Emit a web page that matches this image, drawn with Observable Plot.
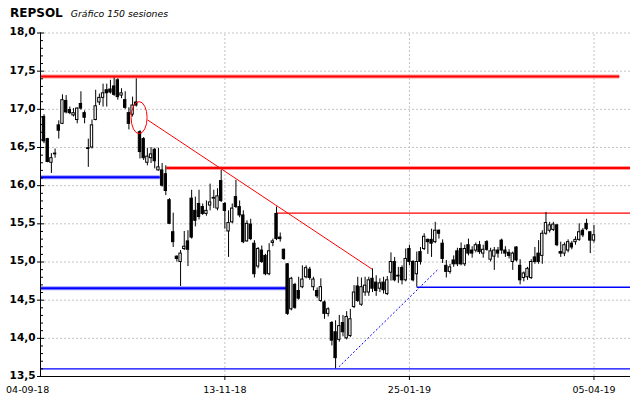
<!DOCTYPE html>
<html><head><meta charset="utf-8">
<script src="https://cdn.jsdelivr.net/npm/d3@7"></script>
<script src="https://cdn.jsdelivr.net/npm/@observablehq/plot@0.6"></script>
<style>
body{margin:0;background:#fff;}
#wrap{position:relative;width:640px;height:398px;}
#title{position:absolute;left:10px;top:2px;font-family:"DejaVu Sans",sans-serif;white-space:nowrap;color:#000;}
#title b{font-size:12px;}
#title i{font-size:9.3px;margin-left:8px;}
</style></head><body>
<div id="wrap"><div id="title"><b>REPSOL</b><i>Gráfico 150 sesiones</i></div></div>
<script>
const opens = [16.90,16.61,16.30,16.41,16.79,16.81,17.11,16.99,16.92,16.86,17.07,16.95,16.49,16.50,16.86,17.09,17.15,17.25,17.26,17.30,17.38,17.18,17.12,16.95,16.93,17.09,16.70,16.61,16.30,16.36,16.47,16.20,16.20,16.15,15.81,15.39,15.07,15.00,
15.17,15.27,15.83,15.67,15.76,15.72,15.63,15.74,15.83,15.70,16.06,15.76,15.40,15.52,15.85,15.72,15.61,15.27,15.49,15.24,14.94,15.15,15.08,14.84,15.25,15.63,15.32,15.16,14.97,14.38,14.70,14.62,14.67,14.80,14.90,14.67,14.62,14.49,14.47,14.32,14.20,14.08,13.98,14.20,14.00,14.03,14.41,14.68,14.44,14.60,14.60,14.78,14.73,14.65,14.73,14.58,14.86,15.00,14.82,14.92,14.76,15.17,15.00,14.84,15.13,15.17,15.29,15.29,15.26,15.41,15.24,14.95,14.87,15.02,15.14,15.17,14.97,15.22,15.15,15.15,15.22,15.11,15.26,15.03,15.07,15.15,15.28,15.15,15.12,15.00,15.19,14.95,14.79,14.80,14.79,15.06,15.11,15.08,15.37,15.41,15.42,15.48,15.13,15.11,15.15,15.24,15.26,15.29,15.41,15.50,15.39,15.28];
const highs = [16.93,16.62,16.42,16.48,16.85,17.19,17.18,17.03,17.01,17.02,17.23,16.98,16.61,16.86,17.25,17.20,17.33,17.33,17.38,17.41,17.40,17.27,17.23,17.02,17.16,17.40,16.72,16.63,16.49,16.50,16.49,16.49,16.29,16.26,15.83,15.64,15.08,15.15,
15.40,15.41,15.94,15.85,15.94,15.76,15.80,16.02,15.94,15.96,16.20,15.78,15.67,15.76,16.07,15.80,15.67,15.54,15.56,15.28,15.19,15.21,15.10,15.24,15.30,15.72,15.38,15.17,14.98,14.80,14.72,14.80,14.95,14.95,14.93,14.80,14.66,14.78,14.49,14.40,14.22,14.23,14.30,14.30,14.35,14.38,14.69,14.80,14.79,14.80,14.80,14.91,14.82,14.78,14.80,14.81,15.12,15.06,14.93,14.95,15.17,15.22,15.02,15.13,15.19,15.37,15.30,15.43,15.52,15.42,15.29,15.02,14.97,15.08,15.18,15.25,15.22,15.30,15.20,15.25,15.27,15.22,15.28,15.18,15.19,15.19,15.30,15.20,15.16,15.13,15.20,15.03,14.87,14.93,15.03,15.19,15.28,15.41,15.65,15.52,15.52,15.49,15.26,15.25,15.29,15.27,15.33,15.50,15.44,15.56,15.39,15.48];
const lows = [16.55,16.30,16.16,16.36,16.61,16.80,16.94,16.93,16.90,16.81,16.99,16.81,16.24,16.48,16.85,17.05,17.03,17.03,17.20,17.17,17.12,17.14,17.00,16.73,16.90,17.03,16.35,16.33,16.26,16.29,16.22,16.19,15.98,15.87,15.49,15.19,15.00,14.68,
15.15,14.94,15.30,15.46,15.55,15.61,15.60,15.67,15.70,15.67,15.78,15.43,15.06,15.50,15.70,15.58,15.24,15.26,15.28,14.79,14.91,14.98,14.82,14.82,15.20,15.28,15.26,15.02,14.30,14.36,14.38,14.50,14.65,14.78,14.76,14.62,14.52,14.47,14.25,14.28,13.90,13.60,13.95,14.02,13.98,14.01,14.39,14.47,14.42,14.55,14.55,14.60,14.55,14.60,14.58,14.56,14.75,14.74,14.72,14.70,14.74,14.95,14.74,14.67,14.96,15.15,15.10,15.06,15.24,15.30,14.98,14.79,14.84,14.93,14.94,14.95,14.94,15.08,15.05,15.12,15.10,15.05,15.14,15.00,14.89,15.05,15.10,15.06,15.04,14.89,15.00,14.70,14.74,14.76,14.77,14.97,14.97,14.97,15.35,15.38,15.40,15.20,15.06,15.07,15.12,15.16,15.22,15.27,15.32,15.41,15.11,15.25];
const closes = [16.58,16.31,16.36,16.42,16.72,17.12,16.96,16.95,16.95,17.01,17.01,16.89,16.48,16.79,17.04,17.15,17.21,17.21,17.22,17.19,17.16,17.21,17.02,16.81,17.05,17.05,16.44,16.36,16.38,16.41,16.32,16.24,16.00,15.93,15.50,15.26,15.04,15.11,
15.20,15.16,15.32,15.54,15.59,15.63,15.67,15.78,15.84,15.86,15.80,15.67,15.51,15.70,15.72,15.61,15.26,15.50,15.30,14.84,15.17,15.00,14.84,15.14,15.27,15.30,15.30,15.04,14.32,14.78,14.40,14.52,14.77,14.92,14.79,14.77,14.55,14.67,14.32,14.38,13.97,13.74,14.16,14.08,14.28,14.25,14.60,14.49,14.67,14.69,14.76,14.65,14.62,14.72,14.63,14.76,15.00,14.76,14.81,14.76,15.04,15.00,14.76,15.00,15.00,15.33,15.26,15.24,15.41,15.37,15.04,14.87,14.93,14.97,14.97,14.97,15.17,15.11,15.11,15.22,15.13,15.16,15.16,15.14,15.15,15.11,15.15,15.11,15.08,15.11,15.02,14.76,14.85,14.91,15.00,15.00,15.00,15.37,15.51,15.48,15.49,15.22,15.11,15.22,15.26,15.19,15.29,15.39,15.35,15.43,15.28,15.35];

const yTicks = [13.5,14.0,14.5,15.0,15.5,16.0,16.5,17.0,17.5,18.0];
const xTickSessions = [-2, 49, 99, 149];
const xTickLabels = ["04-09-18","13-11-18","25-01-19","05-04-19"];

// horizontal support/resistance levels: price, from session, to session
const resThick = [{p:17.43, a:-0.95, b:156}, {p:16.23, a:33.3, b:158.9}];
const supThick = [{p:16.11, a:-0.95, b:31.5}, {p:14.656, a:-0.95, b:65.8}];
const resThin = [{p:15.64, a:63.0, b:158.9}];
const supThin = [{p:14.67, a:101.1, b:158.9}, {p:13.60, a:-0.95, b:158.9}];
const trendDown = [{s1:28.1, p1:16.86, s2:88.9, p2:14.906}];
const trendUp = [{s1:79.9, p1:13.627, s2:106.8, p2:14.906}];
const circleAt = {s:25.9, p:16.885};

const candles = opens.map((o,i)=>({i, o, h:highs[i], l:lows[i], c:closes[i]}));
const up = candles.filter(d=>d.c>=d.o);
const down = candles.filter(d=>d.c<d.o);
const minorTicks = d3.range(136,181).map(v=>v/10).filter(v=>Math.round(v*10)%5!==0);
const gridY = yTicks.filter(v=>v>13.5);
const xLabels = xTickSessions.map((s,k)=>({s, label:xTickLabels[k], first:k===0}));
const hw = 0.32;
const font = "DejaVu Sans, sans-serif";

const chart = Plot.plot({
  width: 640, height: 398,
  marginLeft: 40, marginRight: 10, marginTop: 32.5, marginBottom: 22,
  x: {domain: [-0.95, 158.9], axis: null},
  y: {domain: [13.5, 18.0], axis: null},
  style: {fontFamily: font, background: "white", color: "black"},
  marks: [
    Plot.ruleY(gridY, {stroke: "#c4c4c4", strokeDasharray: "2,2"}),
    Plot.ruleX(xTickSessions.filter(s=>s>0), {y1: 13.5, y2: 18.0, stroke: "#c4c4c4", strokeDasharray: "2,2"}),
    // thick levels
    Plot.ruleY(resThick, {y: "p", x1: "a", x2: "b", stroke: "#ff9a9a", strokeWidth: 4}),
    Plot.ruleY(resThick, {y: "p", x1: "a", x2: "b", stroke: "#ff0000", strokeWidth: 2}),
    Plot.ruleY(supThick, {y: "p", x1: "a", x2: "b", stroke: "#9a9aff", strokeWidth: 4}),
    Plot.ruleY(supThick, {y: "p", x1: "a", x2: "b", stroke: "#0000ff", strokeWidth: 2}),
    Plot.ruleY(resThin, {y: "p", x1: "a", x2: "b", stroke: "#ff0000", strokeWidth: 1.4}),
    Plot.ruleY(supThin, {y: "p", x1: "a", x2: "b", stroke: "#0000ff", strokeWidth: 1.4}),
    Plot.link(trendDown, {x1: "s1", y1: "p1", x2: "s2", y2: "p2", stroke: "#ff0000", strokeWidth: 1}),
    Plot.link(trendUp, {x1: "s1", y1: "p1", x2: "s2", y2: "p2", stroke: "#0000ff", strokeWidth: 1, strokeDasharray: "2,2"}),
    // candles
    Plot.ruleX(candles, {x: "i", y1: "l", y2: "h", stroke: "black", strokeWidth: 1}),
    Plot.rect(up, {x1: d=>d.i-hw, x2: d=>d.i+hw, y1: "o", y2: "c", fill: "white", stroke: "black", strokeWidth: 1}),
    Plot.rect(down, {x1: d=>d.i-hw, x2: d=>d.i+hw, y1: "o", y2: "c", fill: "black", stroke: "black", strokeWidth: 1}),
    // axes
    Plot.ruleY([13.5], {stroke: "black", strokeWidth: 1}),
    Plot.ruleX([-0.95], {y1: 13.5, y2: 18.0, stroke: "black", strokeWidth: 1}),
    Plot.tickY(minorTicks, {y: d=>d, stroke: "black", insetLeft: 0, insetRight: 587}),
    Plot.tickY(yTicks, {y: d=>d, stroke: "black", insetLeft: -3, insetRight: 586}),
    Plot.tickX(xTickSessions.filter(s=>s>0), {x: d=>d, stroke: "black", insetTop: 343.5, insetBottom: -4}),
    Plot.text(yTicks, {x: -0.95, y: d=>d, text: d=>d.toFixed(1).replace(".", ","), textAnchor: "end", dx: -5, dy: -1, fontWeight: "bold", fontSize: 10.5, fill: "black"}),
    Plot.text(xLabels.filter(d=>!d.first), {x: "s", y: 13.5, text: "label", dy: 13, fontSize: 9.5, fill: "black"}),
    Plot.text(xLabels.filter(d=>d.first), {x: "s", y: 13.5, text: "label", dy: 13, dx: -9, fontSize: 9.5, fill: "black"})
  ]
});
document.getElementById("wrap").appendChild(chart);
const sx = chart.scale("x"), sy = chart.scale("y");
d3.select(chart).append("ellipse")
  .attr("cx", sx.apply(circleAt.s)).attr("cy", sy.apply(circleAt.p))
  .attr("rx", 8).attr("ry", 16)
  .attr("fill", "none").attr("stroke", "#ff0000").attr("stroke-width", 1);
document.getElementById("wrap").appendChild(document.getElementById("title"));
</script>
</body></html>
